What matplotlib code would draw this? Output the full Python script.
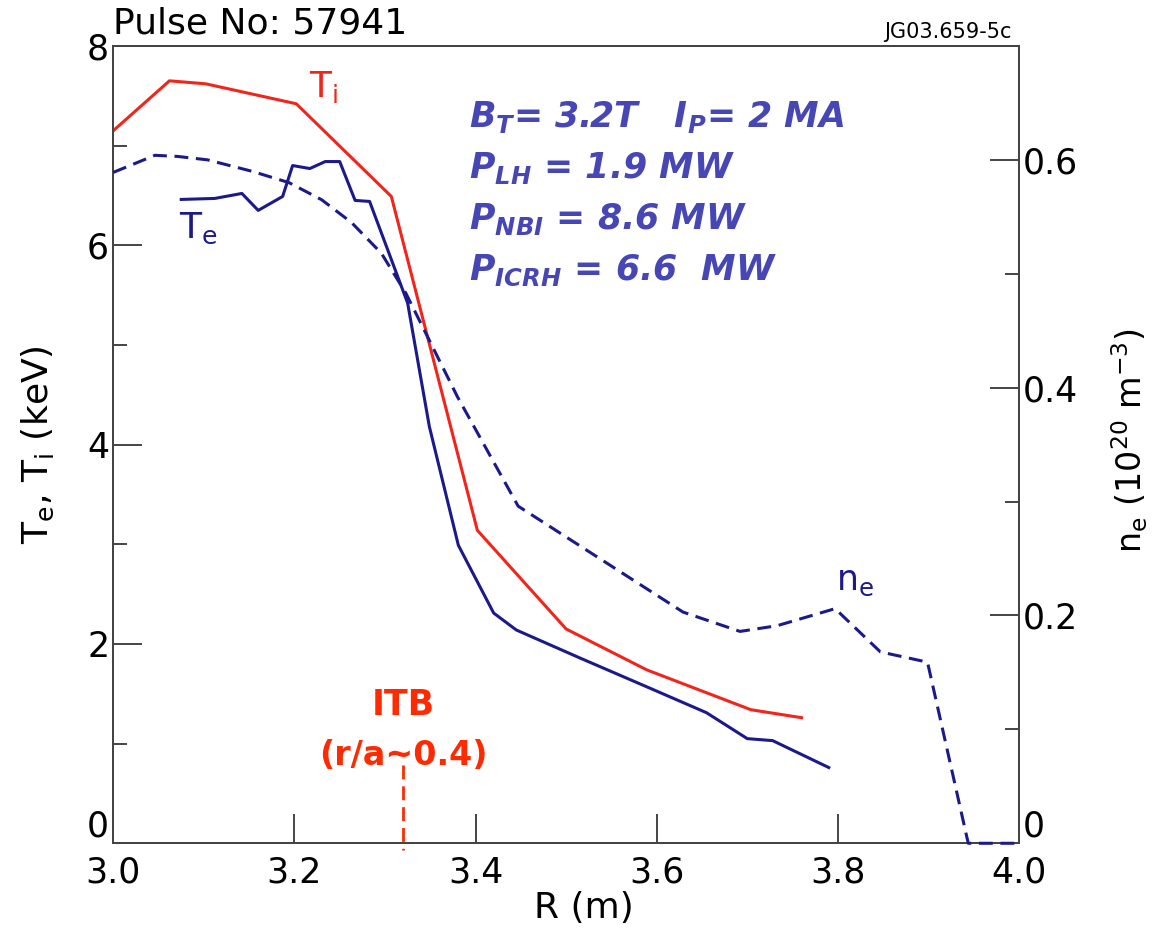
import matplotlib
matplotlib.use("Agg")
import matplotlib.pyplot as plt
from matplotlib.ticker import FixedLocator, FormatStrFormatter

plt.rcParams['font.family'] = ['DejaVu Sans']
plt.rcParams['mathtext.fontset'] = 'dejavusans'
plt.rcParams['lines.scale_dashes'] = False

# ---------------- data ----------------
ti_R = [3.00, 3.062, 3.102, 3.202, 3.307, 3.402, 3.50, 3.589, 3.704, 3.760]
ti_T = [7.15, 7.65, 7.62, 7.42, 6.49, 3.14, 2.15, 1.74, 1.34, 1.26]

te_R = [3.075, 3.112, 3.142, 3.160, 3.187, 3.198, 3.217, 3.234, 3.250, 3.267,
        3.283, 3.325, 3.349, 3.381, 3.420, 3.445, 3.515, 3.589, 3.622, 3.655,
        3.700, 3.728, 3.790]
te_T = [6.46, 6.47, 6.52, 6.35, 6.49, 6.80, 6.77, 6.84, 6.84, 6.45,
        6.44, 5.42, 4.18, 2.99, 2.31, 2.14, 1.86, 1.57, 1.44, 1.31,
        1.05, 1.03, 0.76]

ne_R = [3.00, 3.046, 3.071, 3.104, 3.153, 3.194, 3.230, 3.263, 3.296, 3.323,
        3.38, 3.447, 3.629, 3.692, 3.733, 3.797, 3.847, 3.899, 3.944, 4.00]
ne_n = [0.589, 0.604, 0.603, 0.600, 0.590, 0.580, 0.565, 0.545, 0.518, 0.483,
        0.392, 0.296, 0.203, 0.186, 0.191, 0.206, 0.168, 0.159, 0.0, 0.0]

itb_R = 3.32
itb_top = 0.79
itb_bottom = -0.07

x_ticks = [3.0, 3.2, 3.4, 3.6, 3.8, 4.0]
yl_ticks = [0, 2, 4, 6, 8]
yl_minor = [1, 3, 5, 7]
yr_ticks = [0, 0.2, 0.4, 0.6]
yr_labels = ['0', '0.2', '0.4', '0.6']
yr_minor = [0.1, 0.3, 0.5]

params = [r'$\mathbfit{B_T}$= 3.2T   $\mathbfit{I_P}$= 2 MA',
          r'$\mathbfit{P_{LH}}$ = 1.9 MW',
          r'$\mathbfit{P_{NBI}}$ = 8.6 MW',
          r'$\mathbfit{P_{ICRH}}$ = 6.6  MW']

# ---------------- styles ----------------
RED = '#f0261c'
NAVY = '#1c1a8a'
BLUE_TXT = '#4646b4'
ITB_RED = '#ff2a00'
SPINE = '#444444'

fig = plt.figure(figsize=(11.62, 9.32), dpi=100)
ax = fig.add_axes([0.0975, 0.0952, 0.7794, 0.8555])
ax2 = ax.twinx()

ax.plot(ti_R, ti_T, color=RED, lw=2.2, zorder=3)
ax.plot(te_R, te_T, color=NAVY, lw=2.2, zorder=3)
ax2.plot(ne_R, ne_n, color=NAVY, lw=2.2, dashes=(10, 5.5), zorder=5, clip_on=False)

ax.plot([itb_R, itb_R], [itb_top, itb_bottom], color=ITB_RED, lw=2.0,
        dashes=(10, 5), clip_on=False, zorder=4)

ax.set_xlim(3.0, 4.0)
ax.set_ylim(0, 8)
ax2.set_ylim(0, 0.70)

for a in (ax, ax2):
    for s in a.spines.values():
        s.set_color(SPINE)
        s.set_linewidth(1.4)

ax.xaxis.set_major_locator(FixedLocator(x_ticks))
ax.xaxis.set_major_formatter(FormatStrFormatter('%.1f'))
ax.set_yticks(yl_ticks)
ax.set_yticklabels([str(v) for v in yl_ticks])
ax.yaxis.set_minor_locator(FixedLocator(yl_minor))
ax2.set_yticks(yr_ticks)
ax2.set_yticklabels(yr_labels)
ax2.yaxis.set_minor_locator(FixedLocator(yr_minor))

ax.tick_params(axis='x', which='major', direction='in', length=21, width=1.4,
               color=SPINE, labelsize=25, pad=9, top=False)
ax.tick_params(axis='y', which='major', direction='in', length=21, width=1.4,
               color=SPINE, labelsize=25, pad=3, right=False)
ax.tick_params(axis='y', which='minor', direction='in', length=10, width=1.4,
               color=SPINE, right=False)
ax2.tick_params(axis='y', which='major', direction='in', length=21, width=1.4,
                color=SPINE, labelsize=25, pad=3)
ax2.tick_params(axis='y', which='minor', direction='in', length=10, width=1.4,
                color=SPINE)

ax.yaxis.get_major_ticks()[0].label1.set_verticalalignment('bottom')
ax2.yaxis.get_major_ticks()[0].label2.set_verticalalignment('bottom')

ax.set_xlabel('R (m)', fontsize=26)
ax.xaxis.set_label_coords(0.52, -0.081)
ax.xaxis.label.set_verticalalignment('center')
ax.set_ylabel(r'T$_\mathregular{e}$, T$_\mathregular{i}$ (keV)', fontsize=26)
ax.yaxis.set_label_coords(-0.083, 0.5)
ax.yaxis.label.set_verticalalignment('center')
ax2.set_ylabel(r'n$_\mathregular{e}$ (10$^\mathregular{20}$ m$^\mathregular{-3}$)',
               fontsize=24, rotation=90)
ax2.yaxis.set_label_coords(1.1226, 0.505)
ax2.yaxis.label.set_verticalalignment('center')

# curve labels
ax.text(3.216, 7.49, r'T$_\mathregular{i}$', color=RED, fontsize=26,
        ha='left', va='baseline')
ax.text(3.073, 6.07, r'T$_\mathregular{e}$', color=NAVY, fontsize=26,
        ha='left', va='baseline')
ax.text(3.798, 2.54, r'n$_\mathregular{e}$', color=NAVY, fontsize=25,
        ha='left', va='baseline')

# parameters block
param_y = [7.19, 6.68, 6.16, 5.65]
for txt, yy in zip(params, param_y):
    ax.text(3.393, yy, txt, color=BLUE_TXT, fontsize=25, fontweight='bold',
            style='italic', ha='left', va='baseline')

# ITB annotation
ax.text(itb_R, (843.3 - 715) / 99.66, 'ITB', color=ITB_RED, fontsize=25,
        fontweight='bold', ha='center', va='baseline')
ax.text(itb_R, (843.3 - 765) / 99.66, '(r/a~0.4)', color=ITB_RED, fontsize=24,
        fontweight='bold', ha='center', va='baseline', zorder=2)

fig.text(113 / 1162, 1 - 33 / 932, 'Pulse No: 57941', fontsize=26,
         ha='left', va='baseline')
fig.text(1012 / 1162, 1 - 38 / 932, 'JG03.659-5c', fontsize=15,
         ha='right', va='baseline')

fig.savefig('out.png', dpi=100)
